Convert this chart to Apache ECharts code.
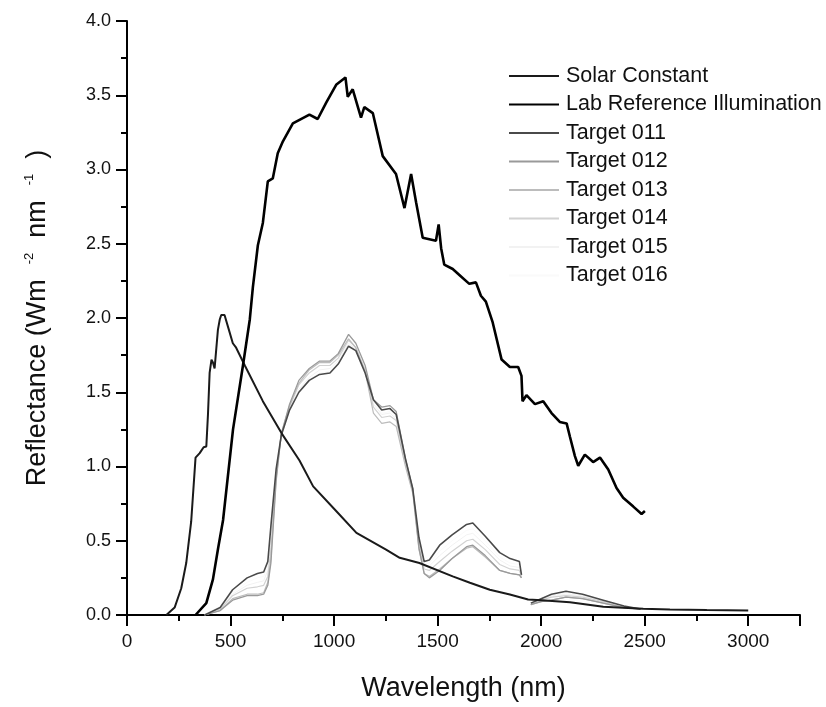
<!DOCTYPE html>
<html>
<head>
<meta charset="utf-8">
<script src="https://cdn.jsdelivr.net/npm/echarts@6/dist/echarts.min.js"></script>
<style>
html,body{margin:0;padding:0;background:#fff;}
#chart{width:826px;height:707px;}
</style>
</head>
<body>
<div id="chart"></div>
<script>
// ---- data ----
const solarWl = [190, 230, 262, 286, 310, 331, 351, 370, 383, 391, 399, 408, 415, 423, 439, 448, 455, 471, 490, 511, 527, 569, 656, 746, 833, 899, 1010, 1108, 1251, 1317, 1412, 1573, 1656, 1752, 1849, 1937, 2002, 2139, 2300, 2493, 2622, 2800, 3000];
const solarVal = [0, 0.05, 0.18, 0.35, 0.63, 1.06, 1.09, 1.13, 1.135, 1.35, 1.63, 1.72, 1.70, 1.66, 1.92, 1.99, 2.02, 2.02, 1.93, 1.83, 1.80, 1.68, 1.44, 1.225, 1.04, 0.866, 0.70, 0.553, 0.44, 0.385, 0.35, 0.26, 0.217, 0.17, 0.138, 0.104, 0.100, 0.086, 0.055, 0.042, 0.037, 0.033, 0.03];

const labWl = [331, 383, 415, 440, 464, 512, 560, 593, 608, 632, 656, 680, 704, 728, 753, 801, 881, 921, 962, 1010, 1055, 1066, 1090, 1130, 1146, 1187, 1235, 1299, 1340, 1372, 1396, 1428, 1492, 1505, 1517, 1532, 1573, 1605, 1653, 1685, 1709, 1733, 1766, 1809, 1849, 1889, 1905, 1910, 1929, 1970, 2010, 2050, 2090, 2123, 2139, 2163, 2179, 2211, 2251, 2284, 2324, 2364, 2396, 2445, 2485, 2501];
const labVal = [0, 0.08, 0.24, 0.45, 0.64, 1.25, 1.68, 1.99, 2.21, 2.49, 2.64, 2.92, 2.94, 3.11, 3.19, 3.31, 3.37, 3.34, 3.45, 3.57, 3.62, 3.49, 3.54, 3.35, 3.42, 3.38, 3.09, 2.97, 2.74, 2.97, 2.78, 2.54, 2.52, 2.63, 2.47, 2.36, 2.33, 2.29, 2.23, 2.24, 2.15, 2.11, 1.97, 1.72, 1.67, 1.67, 1.61, 1.44, 1.48, 1.42, 1.44, 1.36, 1.30, 1.29, 1.20, 1.07, 1.005, 1.08, 1.03, 1.06, 0.98, 0.855, 0.79, 0.73, 0.68, 0.70];

const targetWl = [375, 450, 510, 580, 630, 660, 680, 695, 720, 745, 785, 830, 880, 930, 980, 1020, 1070, 1105, 1150, 1190, 1230, 1270, 1300, 1345, 1380, 1410, 1435, 1460, 1510, 1570, 1640, 1670, 1730, 1800, 1850, 1895, 1905, 1925, 1950, 2000, 2050, 2120, 2200, 2300, 2400, 2480];
const t011 = [0, 0.05, 0.17, 0.25, 0.28, 0.29, 0.36, 0.60, 0.98, 1.21, 1.38, 1.50, 1.58, 1.62, 1.63, 1.69, 1.81, 1.78, 1.63, 1.45, 1.38, 1.39, 1.35, 1.05, 0.85, 0.52, 0.36, 0.37, 0.47, 0.54, 0.61, 0.62, 0.53, 0.42, 0.38, 0.36, 0.27, null, 0.08, 0.11, 0.14, 0.16, 0.14, 0.10, 0.06, 0.04];
const t012 = [0, 0.03, 0.10, 0.13, 0.13, 0.14, 0.20, 0.35, 0.90, 1.22, 1.42, 1.58, 1.66, 1.71, 1.71, 1.76, 1.89, 1.83, 1.68, 1.45, 1.40, 1.41, 1.37, 1.05, 0.85, 0.45, 0.28, 0.25, 0.30, 0.38, 0.46, 0.47, 0.40, 0.30, 0.28, 0.27, 0.25, null, 0.07, 0.09, 0.10, 0.12, 0.11, 0.08, 0.05, 0.04];
const t013 = [0, 0.03, 0.11, 0.14, 0.14, 0.15, 0.22, 0.38, 0.92, 1.22, 1.41, 1.56, 1.65, 1.70, 1.70, 1.75, 1.86, 1.80, 1.64, 1.36, 1.29, 1.30, 1.27, 1.00, 0.82, 0.44, 0.28, 0.26, 0.31, 0.38, 0.45, 0.46, 0.39, 0.30, 0.28, 0.27, 0.25, null, 0.07, 0.09, 0.10, 0.12, 0.11, 0.08, 0.05, 0.04];
const t014 = [0, 0.04, 0.13, 0.18, 0.19, 0.20, 0.26, 0.45, 0.94, 1.21, 1.40, 1.55, 1.63, 1.68, 1.68, 1.73, 1.85, 1.80, 1.65, 1.40, 1.33, 1.34, 1.31, 1.02, 0.83, 0.47, 0.31, 0.30, 0.36, 0.43, 0.50, 0.51, 0.44, 0.34, 0.31, 0.30, 0.26, null, 0.07, 0.10, 0.12, 0.13, 0.12, 0.09, 0.05, 0.04];
const t015 = [0, 0.04, 0.14, 0.20, 0.22, 0.23, 0.30, 0.50, 0.95, 1.20, 1.39, 1.52, 1.60, 1.65, 1.66, 1.71, 1.83, 1.79, 1.64, 1.42, 1.35, 1.36, 1.32, 1.03, 0.84, 0.49, 0.33, 0.33, 0.40, 0.47, 0.54, 0.55, 0.47, 0.37, 0.33, 0.32, 0.26, null, 0.08, 0.10, 0.13, 0.14, 0.13, 0.09, 0.05, 0.04];
const t016 = [0, 0.04, 0.15, 0.22, 0.25, 0.26, 0.33, 0.55, 0.96, 1.20, 1.38, 1.51, 1.59, 1.63, 1.64, 1.70, 1.82, 1.78, 1.63, 1.43, 1.36, 1.37, 1.33, 1.04, 0.85, 0.50, 0.34, 0.35, 0.43, 0.50, 0.57, 0.58, 0.50, 0.39, 0.35, 0.34, 0.27, null, 0.08, 0.10, 0.13, 0.15, 0.13, 0.10, 0.06, 0.04];

const seriesNames = ['Solar Constant', 'Lab Reference Illumination', 'Target 011', 'Target 012', 'Target 013', 'Target 014', 'Target 015', 'Target 016'];
const yTicks = [0, 0.5, 1.0, 1.5, 2.0, 2.5, 3.0, 3.5, 4.0];
const xTicks = [0, 500, 1000, 1500, 2000, 2500, 3000];

function pairs(xs, ys) { return xs.map((x, i) => [x, ys[i]]); }

const targetSets = [t011, t012, t013, t014, t015, t016];
const targetColors = ['#4a4a4a', '#9a9a9a', '#bcbcbc', '#d2d2d2', '#f2f2f2', '#fafafa'];
const targetWidths = [1.6, 1.3, 1.2, 1.2, 1.0, 1.0];

const series = [
  { name: seriesNames[0], type: 'line', data: pairs(solarWl, solarVal), symbol: 'none',
    lineStyle: { color: '#1a1a1a', width: 2 }, itemStyle: { color: '#1a1a1a' }, z: 5 },
  { name: seriesNames[1], type: 'line', data: pairs(labWl, labVal), symbol: 'none',
    lineStyle: { color: '#000', width: 2.6 }, itemStyle: { color: '#000' }, z: 6 }
];
for (let i = targetSets.length - 1; i >= 0; i--) {
  series.push({ name: seriesNames[2 + i], type: 'line', data: pairs(targetWl, targetSets[i]), symbol: 'none',
    connectNulls: false,
    lineStyle: { color: targetColors[i], width: targetWidths[i] }, itemStyle: { color: targetColors[i] }, z: 2 + (targetSets.length - i) * 0.1 });
}

const chart = echarts.init(document.getElementById('chart'), null, { renderer: 'canvas' });
const font = 'Liberation Sans, Arial, sans-serif';
chart.setOption({
  animation: false,
  backgroundColor: '#fff',
  textStyle: { fontFamily: font },
  grid: { left: 127, right: 26, top: 21, bottom: 92, containLabel: false },
  legend: {
    data: seriesNames,
    orient: 'vertical',
    left: 508, top: 65,
    itemWidth: 50, itemHeight: 14, itemGap: 6.5,
    itemStyle: { opacity: 0 },
    textStyle: { fontFamily: font, fontSize: 21.5, color: '#111', padding: [0, 0, 0, 2] },
    padding: 0
  },
  xAxis: {
    type: 'value', min: 0, max: 3250, interval: 500,
    name: 'Wavelength (nm)', nameLocation: 'middle', nameGap: 60,
    nameTextStyle: { fontFamily: font, fontSize: 27, color: '#111' },
    axisLine: { show: true, onZero: false, lineStyle: { color: '#000', width: 2 } },
    axisTick: { show: true, inside: false, length: 11, lineStyle: { color: '#000', width: 2 } },
    minorTick: { show: true, splitNumber: 2, length: 6, lineStyle: { color: '#000', width: 2 } },
    splitLine: { show: false },
    axisLabel: { showMaxLabel: false, margin: 17, fontSize: 19, color: '#111', fontFamily: font,
      formatter: v => xTicks.includes(v) ? String(v) : '' }
  },
  yAxis: {
    type: 'value', min: 0, max: 4, interval: 0.5,
    name: 'Reflectance (Wm  {sup|-2}  nm  {sup|-1}  )', nameLocation: 'middle', nameGap: 74, nameRotate: 90,
    nameTextStyle: { fontFamily: font, fontSize: 27, color: '#111',
      rich: { sup: { fontSize: 13, verticalAlign: 'top', lineHeight: 30, color: '#111' } } },
    axisLine: { show: true, onZero: false, lineStyle: { color: '#000', width: 2 } },
    axisTick: { show: true, inside: false, length: 11, lineStyle: { color: '#000', width: 2 } },
    minorTick: { show: true, splitNumber: 2, length: 6, lineStyle: { color: '#000', width: 2 } },
    splitLine: { show: false },
    axisLabel: { margin: 16, fontSize: 18, color: '#111', fontFamily: font,
      formatter: v => yTicks.includes(v) ? v.toFixed(1) : '' }
  },
  series: series
});
</script>
</body>
</html>
